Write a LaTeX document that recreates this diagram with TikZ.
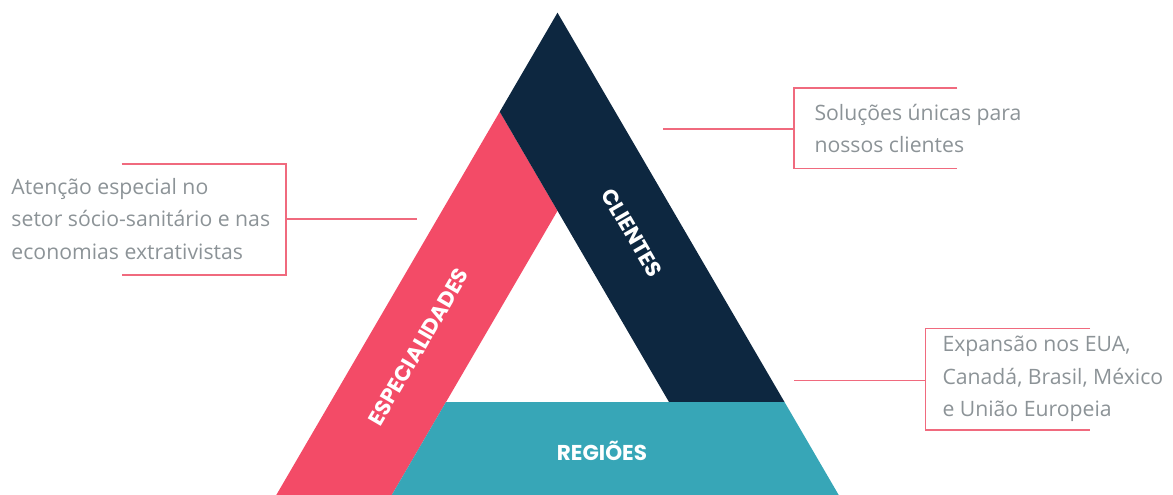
\documentclass[tikz,border=0pt]{standalone}
\usepackage{fontspec}
\setmainfont{Open Sans}
\newfontfamily\labfont{Poppins}
\definecolor{bandred}{HTML}{F34B67}
\definecolor{banddark}{HTML}{0D2740}
\definecolor{bandteal}{HTML}{37A6B7}
\definecolor{linepink}{HTML}{F06A7E}
\definecolor{annotgray}{HTML}{8C9397}
\tikzset{
  band label/.style={text=white, font=\labfont\bfseries\fontsize{21.5}{24}\selectfont, inner sep=0pt},
  annot/.style={text=annotgray, font=\fontsize{21.2}{32.5}\selectfont, align=left, inner sep=0pt, anchor=west},
  bracket/.style={draw=linepink, line width=1.5pt},
}
\begin{document}
\begin{tikzpicture}[x=1pt,y=-1pt]
\useasboundingbox (0,0) rectangle (1173,495);
% geometry
\coordinate (apex) at (557.5,12.7);
\coordinate (redtop) at (499.75,111.75);
\coordinate (lb) at (276.3,495);
\coordinate (rinner) at (391.8,495);
\coordinate (iapex) at (557.5,210.8);
\coordinate (tl) at (446.0,402);
\coordinate (tr) at (784.5,402);
\coordinate (rb) at (838.7,495);
\coordinate (dbl) at (669,402);
% bands
\fill[bandred] (redtop) -- (lb) -- (rinner) -- (iapex) -- cycle;
\fill[banddark] (apex) -- (tr) -- (dbl) -- (redtop) -- cycle;
\fill[bandteal] (tl) -- (tr) -- (rb) -- (rinner) -- cycle;
% labels
\node[band label, rotate=-59.76] (clientes) at (632,233) {CLIENTES};
\node[band label, rotate=59.76] (espec) at (418.5,347) {ESPECIALIDADES};
\node[band label] (regioes) at (602,451) {REGIÕES};
% left annotation
\node[annot] (ltext) at (11.3,219) {Atenção especial no\\setor sócio-sanitário e nas\\economias extrativistas};
\coordinate (l1) at (121.7,164);
\coordinate (l2) at (286,164);
\coordinate (l3) at (286,275);
\coordinate (l4) at (121.7,275);
\coordinate (lm) at (286,219);
\coordinate (le) at (417.3,219);
\draw[bracket] (l1) -- (l2) -- (l3) -- (l4);
\draw[bracket] (lm) -- (le);
% right top annotation
\node[annot] (rttext) at (814.3,128.5) {Soluções únicas para\\nossos clientes};
\coordinate (r1) at (957.3,88);
\coordinate (r2) at (794,88);
\coordinate (r3) at (794,168.3);
\coordinate (r4) at (957.3,168.3);
\coordinate (rm) at (794,129);
\coordinate (re) at (662.7,129);
\draw[bracket] (r1) -- (r2) -- (r3) -- (r4);
\draw[bracket] (rm) -- (re);
% right bottom annotation
\node[annot] (rbtext) at (942.3,379) {Expansão nos EUA,\\Canadá, Brasil, México\\e União Europeia};
\coordinate (s1) at (1090,328.3);
\coordinate (s2) at (925.7,328.3);
\coordinate (s3) at (925.7,430);
\coordinate (s4) at (1090,430);
\coordinate (sm) at (925.7,380.7);
\coordinate (se) at (794,380.7);
\draw[bracket] (s1) -- (s2) -- (s3) -- (s4);
\draw[bracket] (sm) -- (se);
\end{tikzpicture}
\end{document}
